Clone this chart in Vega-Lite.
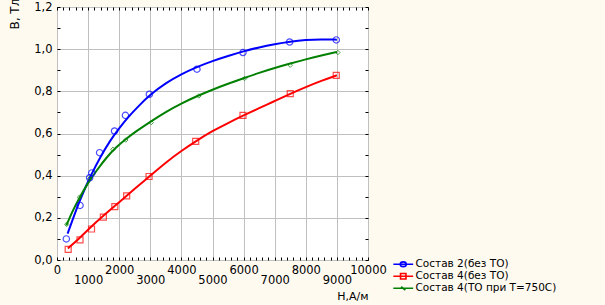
{
  "$schema": "https://vega.github.io/schema/vega-lite/v6.json",
  "width": 311,
  "height": 253,
  "autosize": {"type": "none"},
  "padding": {"left": 57, "top": 7, "right": 237, "bottom": 45},
  "background": "#fffaf0",
  "config": {
    "view": {"stroke": "#000000", "strokeWidth": 1, "fill": "#ffffff"},
    "axis": {
      "labelFont": "DejaVu Sans", "labelFontSize": 11.5, "labelColor": "#000000",
      "titleFont": "DejaVu Sans", "titleFontSize": 11.5, "titleFontWeight": "normal", "titleColor": "#000000",
      "gridColor": "#c0c0c0", "gridOpacity": 1, "gridWidth": 1, "domain": false, "tickColor": "#000000", "tickWidth": 1
    },
    "legend": {
      "orient": "none", "legendX": 341, "legendY": 252, "padding": 0,
      "symbolSize": 36, "labelOffset": 7, "labelFont": "DejaVu Sans", "labelFontSize": 10.5, "labelColor": "#000000",
      "rowPadding": 0, "symbolStrokeWidth": 1.6, "labelLimit": 300, "symbolOpacity": 1
    }
  },
  "datasets": {
    "curve": [
      {"series": "Состав 2(без ТО)", "H": 340, "B": 0.125},
      {"series": "Состав 2(без ТО)", "H": 500, "B": 0.19},
      {"series": "Состав 2(без ТО)", "H": 700, "B": 0.27},
      {"series": "Состав 2(без ТО)", "H": 900, "B": 0.34},
      {"series": "Состав 2(без ТО)", "H": 1100, "B": 0.405},
      {"series": "Состав 2(без ТО)", "H": 1400, "B": 0.49},
      {"series": "Состав 2(без ТО)", "H": 1700, "B": 0.565},
      {"series": "Состав 2(без ТО)", "H": 2000, "B": 0.625},
      {"series": "Состав 2(без ТО)", "H": 2300, "B": 0.68},
      {"series": "Состав 2(без ТО)", "H": 2600, "B": 0.727},
      {"series": "Состав 2(без ТО)", "H": 3000, "B": 0.785},
      {"series": "Состав 2(без ТО)", "H": 3500, "B": 0.84},
      {"series": "Состав 2(без ТО)", "H": 4000, "B": 0.882},
      {"series": "Состав 2(без ТО)", "H": 4500, "B": 0.916},
      {"series": "Состав 2(без ТО)", "H": 5000, "B": 0.944},
      {"series": "Состав 2(без ТО)", "H": 5500, "B": 0.968},
      {"series": "Состав 2(без ТО)", "H": 6000, "B": 0.99},
      {"series": "Состав 2(без ТО)", "H": 6500, "B": 1.009},
      {"series": "Состав 2(без ТО)", "H": 7000, "B": 1.024},
      {"series": "Состав 2(без ТО)", "H": 7500, "B": 1.036},
      {"series": "Состав 2(без ТО)", "H": 8000, "B": 1.044},
      {"series": "Состав 2(без ТО)", "H": 8500, "B": 1.047},
      {"series": "Состав 2(без ТО)", "H": 9000, "B": 1.045},
      {"series": "\u00a0Состав 4(без ТО)", "H": 350, "B": 0.055},
      {"series": "\u00a0Состав 4(без ТО)", "H": 700, "B": 0.1},
      {"series": "\u00a0Состав 4(без ТО)", "H": 1000, "B": 0.145},
      {"series": "\u00a0Состав 4(без ТО)", "H": 1500, "B": 0.212},
      {"series": "\u00a0Состав 4(без ТО)", "H": 2000, "B": 0.274},
      {"series": "\u00a0Состав 4(без ТО)", "H": 2500, "B": 0.338},
      {"series": "\u00a0Состав 4(без ТО)", "H": 3000, "B": 0.4},
      {"series": "\u00a0Состав 4(без ТО)", "H": 3500, "B": 0.463},
      {"series": "\u00a0Состав 4(без ТО)", "H": 4000, "B": 0.518},
      {"series": "\u00a0Состав 4(без ТО)", "H": 4500, "B": 0.567},
      {"series": "\u00a0Состав 4(без ТО)", "H": 5000, "B": 0.612},
      {"series": "\u00a0Состав 4(без ТО)", "H": 5500, "B": 0.65},
      {"series": "\u00a0Состав 4(без ТО)", "H": 6000, "B": 0.686},
      {"series": "\u00a0Состав 4(без ТО)", "H": 6500, "B": 0.72},
      {"series": "\u00a0Состав 4(без ТО)", "H": 7000, "B": 0.754},
      {"series": "\u00a0Состав 4(без ТО)", "H": 7500, "B": 0.788},
      {"series": "\u00a0Состав 4(без ТО)", "H": 8000, "B": 0.82},
      {"series": "\u00a0Состав 4(без ТО)", "H": 8500, "B": 0.85},
      {"series": "\u00a0Состав 4(без ТО)", "H": 9000, "B": 0.876},
      {"series": "Состав 4(ТО при Т=750С)", "H": 300, "B": 0.164},
      {"series": "Состав 4(ТО при Т=750С)", "H": 500, "B": 0.232},
      {"series": "Состав 4(ТО при Т=750С)", "H": 700, "B": 0.29},
      {"series": "Состав 4(ТО при Т=750С)", "H": 1000, "B": 0.367},
      {"series": "Состав 4(ТО при Т=750С)", "H": 1300, "B": 0.43},
      {"series": "Состав 4(ТО при Т=750С)", "H": 1600, "B": 0.488},
      {"series": "Состав 4(ТО при Т=750С)", "H": 1900, "B": 0.535},
      {"series": "Состав 4(ТО при Т=750С)", "H": 2200, "B": 0.572},
      {"series": "Состав 4(ТО при Т=750С)", "H": 2500, "B": 0.606},
      {"series": "Состав 4(ТО при Т=750С)", "H": 3000, "B": 0.656},
      {"series": "Состав 4(ТО при Т=750С)", "H": 3500, "B": 0.703},
      {"series": "Состав 4(ТО при Т=750С)", "H": 4000, "B": 0.743},
      {"series": "Состав 4(ТО при Т=750С)", "H": 4500, "B": 0.777},
      {"series": "Состав 4(ТО при Т=750С)", "H": 5000, "B": 0.808},
      {"series": "Состав 4(ТО при Т=750С)", "H": 5500, "B": 0.836},
      {"series": "Состав 4(ТО при Т=750С)", "H": 6000, "B": 0.862},
      {"series": "Состав 4(ТО при Т=750С)", "H": 6500, "B": 0.888},
      {"series": "Состав 4(ТО при Т=750С)", "H": 7000, "B": 0.911},
      {"series": "Состав 4(ТО при Т=750С)", "H": 7500, "B": 0.932},
      {"series": "Состав 4(ТО при Т=750С)", "H": 8000, "B": 0.952},
      {"series": "Состав 4(ТО при Т=750С)", "H": 8500, "B": 0.97},
      {"series": "Состав 4(ТО при Т=750С)", "H": 9000, "B": 0.987}
    ],
    "pts": [
      {"series": "Состав 2(без ТО)", "H": 300, "B": 0.1},
      {"series": "Состав 2(без ТО)", "H": 740, "B": 0.259},
      {"series": "Состав 2(без ТО)", "H": 1050, "B": 0.39},
      {"series": "Состав 2(без ТО)", "H": 1120, "B": 0.413},
      {"series": "Состав 2(без ТО)", "H": 1370, "B": 0.509},
      {"series": "Состав 2(без ТО)", "H": 1850, "B": 0.612},
      {"series": "Состав 2(без ТО)", "H": 2200, "B": 0.686},
      {"series": "Состав 2(без ТО)", "H": 2970, "B": 0.786},
      {"series": "Состав 2(без ТО)", "H": 4500, "B": 0.905},
      {"series": "Состав 2(без ТО)", "H": 5980, "B": 0.984},
      {"series": "Состав 2(без ТО)", "H": 7480, "B": 1.034},
      {"series": "Состав 2(без ТО)", "H": 8980, "B": 1.044},
      {"series": "\u00a0Состав 4(без ТО)", "H": 360, "B": 0.05},
      {"series": "\u00a0Состав 4(без ТО)", "H": 740, "B": 0.095},
      {"series": "\u00a0Состав 4(без ТО)", "H": 1110, "B": 0.147},
      {"series": "\u00a0Состав 4(без ТО)", "H": 1490, "B": 0.203},
      {"series": "\u00a0Состав 4(без ТО)", "H": 1860, "B": 0.253},
      {"series": "\u00a0Состав 4(без ТО)", "H": 2240, "B": 0.304},
      {"series": "\u00a0Состав 4(без ТО)", "H": 2960, "B": 0.396},
      {"series": "\u00a0Состав 4(без ТО)", "H": 4460, "B": 0.563},
      {"series": "\u00a0Состав 4(без ТО)", "H": 5980, "B": 0.686},
      {"series": "\u00a0Состав 4(без ТО)", "H": 7500, "B": 0.789},
      {"series": "\u00a0Состав 4(без ТО)", "H": 8980, "B": 0.876},
      {"series": "Состав 4(ТО при Т=750С)", "H": 311, "B": 0.169},
      {"series": "Состав 4(ТО при Т=750С)", "H": 720, "B": 0.297},
      {"series": "Состав 4(ТО при Т=750С)", "H": 1050, "B": 0.386},
      {"series": "Состав 4(ТО при Т=750С)", "H": 1800, "B": 0.525},
      {"series": "Состав 4(ТО при Т=750С)", "H": 2210, "B": 0.569},
      {"series": "Состав 4(ТО при Т=750С)", "H": 3030, "B": 0.652},
      {"series": "Состав 4(ТО при Т=750С)", "H": 4560, "B": 0.778},
      {"series": "Состав 4(ТО при Т=750С)", "H": 6030, "B": 0.861},
      {"series": "Состав 4(ТО при Т=750С)", "H": 7500, "B": 0.924},
      {"series": "Состав 4(ТО при Т=750С)", "H": 9030, "B": 0.984}
    ]
  },
  "layer": [
    {
      "data": {"name": "curve"},
      "mark": {"type": "line", "strokeWidth": 2, "interpolate": "basis"},
      "encoding": {
        "x": {
          "field": "H", "type": "quantitative",
          "scale": {"domain": [0, 10000], "nice": false, "zero": false},
          "axis": {
            "orient": "bottom", "format": "d",
            "values": [0, 1000, 2000, 3000, 4000, 5000, 6000, 7000, 8000, 9000, 10000],
            "grid": true, "ticks": false, "labelFlush": false, "labelOverlap": false,
            "labelBaseline": "top",
            "labelPadding": {"condition": {"test": "datum.value % 2000 !== 0", "value": 14}, "value": 4},
            "title": "Н,А/м", "titleX": 311, "titleY": 36, "titleAlign": "right", "titleBaseline": "middle", "titleAnchor": null, "titleFontSize": 11
          }
        },
        "y": {
          "field": "B", "type": "quantitative",
          "scale": {"domain": [0, 1.2], "nice": false, "zero": false},
          "axis": {
            "orient": "left",
            "values": [0, 0.2, 0.4, 0.6, 0.8, 1.0, 1.2],
            "grid": true, "ticks": false, "labelFlush": false, "labelOverlap": false,
            "labelPadding": 5,
            "labelExpr": "replace(format(datum.value, '.1f'), '.', ',')",
            "title": "В, Тл", "titleAngle": -90, "titleX": -43, "titleY": 22, "titleAlign": "left", "titleBaseline": "middle", "titleAnchor": null, "titleFontSize": 12
          }
        },
        "color": {
          "field": "series", "type": "nominal", "title": null,
          "scale": {"domain": ["Состав 2(без ТО)", "\u00a0Состав 4(без ТО)", "Состав 4(ТО при Т=750С)"], "range": ["#0000ff", "#ff0000", "#008000"]}
        }
      }
    },
    {
      "data": {"name": "pts"},
      "transform": [{"filter": "datum.series === 'Состав 2(без ТО)'"}],
      "mark": {"type": "point", "shape": "circle", "filled": false, "strokeWidth": 1.2, "size": 40, "color": "#0000ff"},
      "encoding": {
        "x": {
          "field": "H", "type": "quantitative",
          "axis": {
            "orient": "top",
            "values": [0,200,400,600,800,1000,1200,1400,1600,1800,2000,2200,2400,2600,2800,3000,3200,3400,3600,3800,4000,4200,4400,4600,4800,5000,5200,5400,5600,5800,6000,6200,6400,6600,6800,7000,7200,7400,7600,7800,8000,8200,8400,8600,8800,9000,9200,9400,9600,9800,10000],
            "labels": false, "grid": false, "ticks": true, "tickSize": -3, "title": null
          }
        },
        "y": {
          "field": "B", "type": "quantitative",
          "axis": {
            "orient": "right",
            "values": [0, 0.1, 0.2, 0.3, 0.4, 0.5, 0.6, 0.7, 0.8, 0.9, 1.0, 1.1, 1.2],
            "labels": false, "grid": false, "ticks": true, "tickSize": -3, "title": null
          }
        }
      }
    },
    {
      "data": {"name": "pts"},
      "transform": [{"filter": "indexof(datum.series, 'без') > 0 && datum.series !== 'Состав 2(без ТО)'"}],
      "mark": {"type": "point", "shape": "square", "filled": false, "strokeWidth": 1.2, "size": 36, "color": "#ff0000"},
      "encoding": {
        "x": {"field": "H", "type": "quantitative", "axis": null},
        "y": {"field": "B", "type": "quantitative", "axis": null}
      }
    },
    {
      "data": {"name": "pts"},
      "transform": [{"filter": "indexof(datum.series, 'при') > 0"}],
      "mark": {"type": "point", "shape": "diamond", "filled": false, "strokeWidth": 1, "size": 20, "color": "#008000"},
      "encoding": {
        "x": {"field": "H", "type": "quantitative", "axis": null},
        "y": {"field": "B", "type": "quantitative", "axis": null}
      }
    },
    {
      "data": {"name": "pts"},
      "mark": {"type": "point", "opacity": 0, "filled": false},
      "encoding": {
        "x": {
          "field": "H", "type": "quantitative",
          "axis": {
            "orient": "bottom",
            "values": [0,200,400,600,800,1000,1200,1400,1600,1800,2000,2200,2400,2600,2800,3000,3200,3400,3600,3800,4000,4200,4400,4600,4800,5000,5200,5400,5600,5800,6000,6200,6400,6600,6800,7000,7200,7400,7600,7800,8000,8200,8400,8600,8800,9000,9200,9400,9600,9800,10000],
            "labels": false, "grid": false, "ticks": true, "tickSize": -3, "title": null
          }
        },
        "y": {
          "field": "B", "type": "quantitative",
          "axis": {
            "orient": "left",
            "values": [0, 0.1, 0.2, 0.3, 0.4, 0.5, 0.6, 0.7, 0.8, 0.9, 1.0, 1.1, 1.2],
            "labels": false, "grid": false, "ticks": true, "tickSize": -3, "title": null
          }
        },
        "color": {
          "field": "series", "type": "nominal", "title": null,
          "scale": {"domain": ["Состав 2(без ТО)", "\u00a0Состав 4(без ТО)", "Состав 4(ТО при Т=750С)"], "range": ["#0000ff", "#ff0000", "#008000"]}
        },
        "shape": {
          "field": "series", "type": "nominal", "title": null,
          "scale": {"domain": ["Состав 2(без ТО)", "\u00a0Состав 4(без ТО)", "Состав 4(ТО при Т=750С)"], "range": ["M-3.3,0H3.3M-1,0A1,0.8 0 1,1 1,0A1,0.8 0 1,1 -1,0", "M-3.3,0H3.3M-0.9,-0.9H0.9V0.9H-0.9Z", "M-3.3,0H3.3M-0.7,-0.5L0.7,0.6"]}
        }
      }
    }
  ],
  "resolve": {"axis": {"x": "independent", "y": "independent"}}
}
